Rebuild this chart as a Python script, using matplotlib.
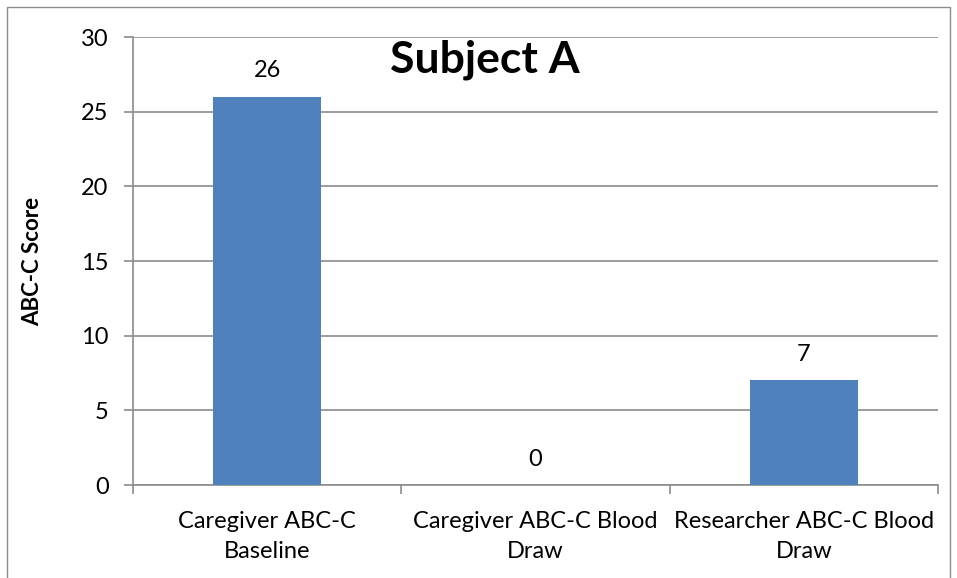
import matplotlib
matplotlib.use('Agg')
import matplotlib.pyplot as plt
from matplotlib.patches import Rectangle

categories = ['Caregiver ABC-C\nBaseline', 'Caregiver ABC-C Blood\nDraw', 'Researcher ABC-C Blood\nDraw']
scores = [26, 0, 7]
yticks = [0, 5, 10, 15, 20, 25, 30]

plt.rcParams['font.family'] = ['Lato', 'DejaVu Sans']

W, H = 957, 578
fig = plt.figure(figsize=(W / 100, H / 100), dpi=100)
ax = fig.add_axes([133 / W, 1 - 485 / H, (938 - 133) / W, (485 - 37) / H])

grid_col = '#8c8c8c'
x = list(range(len(categories)))
ax.bar(x, scores, width=0.4, color='#4F81BD', zorder=3)
for xi, v in zip(x, scores):
    ax.annotate(str(v), (xi, v), xytext=(0, 11), textcoords='offset points',
                ha='center', va='bottom', fontsize=17)

ax.set_xlim(-0.5, len(categories) - 0.5)
ax.set_ylim(0, 30)
ax.set_yticks(yticks)
ax.yaxis.grid(True, color=grid_col, linewidth=1.2, zorder=0)
ax.tick_params(axis='y', length=6.5, width=1.2, color=grid_col, labelsize=17, pad=11)

# category labels centred, ticks on boundaries
ax.set_xticks(x)
ax.set_xticklabels(categories, fontsize=17, linespacing=1.5)
ax.tick_params(axis='x', length=0, pad=19)
ax.set_xticks([-0.5, 0.5, 1.5, 2.5], minor=True)
ax.tick_params(axis='x', which='minor', length=6.5, width=1.2, color=grid_col)

for s in ['top', 'right']:
    ax.spines[s].set_visible(False)
for s in ['left', 'bottom']:
    ax.spines[s].set_color(grid_col)
    ax.spines[s].set_linewidth(1.2)

fig.text(33 / W, 1 - 261 / H, 'ABC-C Score', fontsize=16, fontweight='bold',
         rotation=90, ha='center', va='center')
fig.text(485 / W, 1 - 60 / H, 'Subject A', fontsize=32, fontweight='bold',
         ha='center', va='center')

fig.patches.append(Rectangle((7 / W, -0.01), (950 - 7) / W, 1 - 7 / H + 0.01,
                             transform=fig.transFigure, fill=False,
                             edgecolor='#8c8c8c', linewidth=1))

fig.savefig('out.png', dpi=100)
